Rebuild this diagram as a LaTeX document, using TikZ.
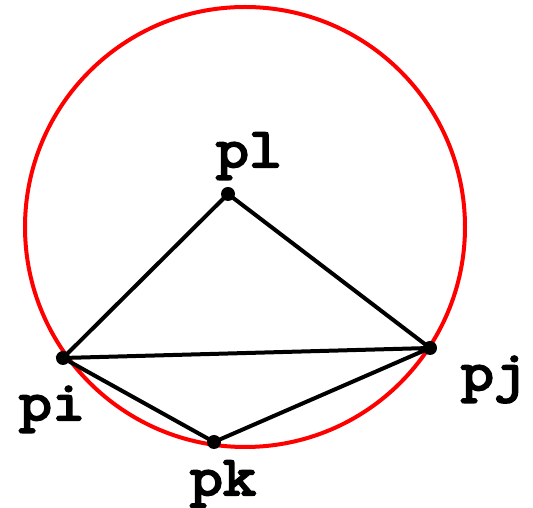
\documentclass[tikz,border=0pt]{standalone}
\usepackage{fontspec}
\newfontfamily\lblfont{Latin Modern Mono}[AutoFakeBold=4,FakeStretch=1.15]
\begin{document}
\begin{tikzpicture}[x=1pt,y=1pt,
  edge/.style={black,line width=4pt},
  dot/.style={circle,fill=black,inner sep=0pt,minimum width=14pt,minimum height=12pt},
  lbl/.style={font=\lblfont\bfseries\fontsize{56}{56}\selectfont,anchor=base,inner sep=0pt}]
\useasboundingbox (0,0) rectangle (533,508);
\draw[red,line width=4pt] (245,281) circle (220);
\node[dot] (pl) at (228,314) {};
\node[dot] (pi) at (63,150) {};
\node[dot] (pj) at (430,160) {};
\node[dot] (pk) at (214,66) {};
\draw[edge] (pi.center) -- (pl.center) -- (pj.center) -- (pi.center) -- (pk.center) -- (pj.center);
\node[lbl] (tl) at (249,341) {pl};
\node[lbl] (ti) at (52,88) {pi};
\node[lbl] (tj) at (494,118) {pj};
\node[lbl] (tk) at (223,13) {pk};
\end{tikzpicture}
\end{document}
